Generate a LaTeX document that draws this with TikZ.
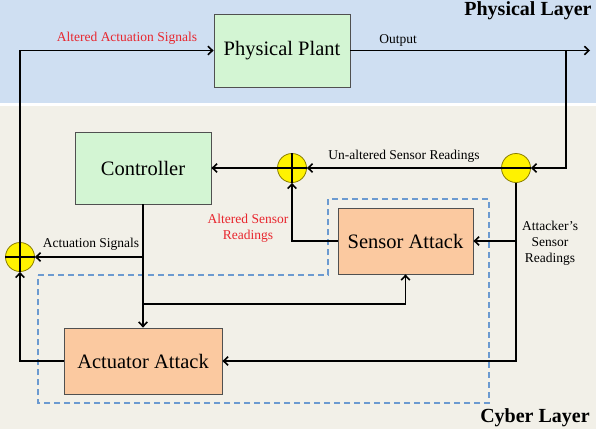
\documentclass[tikz,border=0pt]{standalone}
\usepackage{fontspec}
\setmainfont{Liberation Serif}
\usetikzlibrary{arrows.meta,shadows}
\definecolor{bgblue}{HTML}{CFDFF2}
\definecolor{bgbeige}{HTML}{F2F0E8}
\definecolor{boxgreen}{HTML}{D3F5D3}
\definecolor{boxorange}{HTML}{FBC9A0}
\definecolor{sumyellow}{HTML}{FFF200}
\definecolor{sumedge}{HTML}{8A7E00}
\definecolor{dashblue}{HTML}{6C9AD0}
\definecolor{redtext}{HTML}{E8262E}
\definecolor{boxedge}{HTML}{505050}
\tikzset{
  blk/.style={draw=boxedge, line width=0.8pt, minimum width=#1, inner sep=0pt,
    font=\rmfamily\fontsize{20.5}{23}\selectfont,
    drop shadow={opacity=0.35, shadow xshift=1pt, shadow yshift=-1pt}},
  greenbox/.style={blk=#1, fill=boxgreen},
  orangebox/.style={blk=#1, fill=boxorange},
  sumnode/.style={circle, draw=sumedge, fill=sumyellow, line width=0.8pt, minimum size=29pt, inner sep=0pt},
  wire/.style={line width=1.5pt, black},
  arr/.style={wire, -{Straight Barb[length=4.5pt,width=8.5pt,line width=1.6pt]}},
  lbl/.style={font=\rmfamily\fontsize{13.5}{16}\selectfont, align=center, inner sep=0pt},
  redlbl/.style={lbl, text=redtext},
  layer/.style={font=\rmfamily\bfseries\fontsize{20}{22}\selectfont, inner sep=0pt}
}
\begin{document}
\begin{tikzpicture}[x=1pt,y=-1pt]
\useasboundingbox (0,0) rectangle (596,429);
% backgrounds
\fill[bgblue] (0,0) rectangle (596,103);
\fill[white] (0,103) rectangle (596,106);
\fill[bgbeige] (0,106) rectangle (596,429);
% dashed region
\draw[dashblue, line width=1.2pt, dash pattern=on 6pt off 4pt]
  (38,275) -- (328,275) -- (328,199) -- (489,199) -- (489,403) -- (38,403) -- cycle;
% blocks
\node[greenbox=136pt, minimum height=73pt] (plant) at (282,50.5) {Physical Plant};
\node[greenbox=136pt, minimum height=72pt] (ctrl) at (143,168) {Controller};
\node[orangebox=135pt, minimum height=66pt] (sensor) at (405.5,241) {Sensor Attack};
\node[orangebox=158pt, minimum height=66pt] (act) at (143,361) {Actuator Attack};
% summing / split points
\node[sumnode] (sumL) at (20,257) {};
\node[sumnode] (sumC) at (292,168) {};
\node[sumnode] (split) at (516,168) {};
\draw[wire] (sumL.north) -- (sumL.south) (sumL.west) -- (sumL.east);
\draw[wire] (sumC.north) -- (sumC.south) (sumC.west) -- (sumC.east);
\draw[wire] (split.west) -- (split.east);
% coordinates
\coordinate (out) at (590,50.5);
\coordinate (tap) at (566,50.5);
\coordinate (jA) at (143,304);
% connectors
\draw[arr] (sumL.north) |- (plant.west);
\draw[arr] (plant.east) -- (out);
\draw[arr] (tap) |- (split.east);
\draw[arr] (split.west) -- (sumC.east);
\draw[arr] (sumC.west) -- (ctrl.east);
\draw[arr] (split.south) |- (act.east);
\draw[arr] (split.south |- sensor.east) -- (sensor.east);
\draw[arr] (sensor.west) -| (sumC.south);
\draw[arr] (ctrl.south) -- (act.north);
\draw[arr] (ctrl.south |- sumL.east) -- (sumL.east);
\draw[arr] (jA) -| (sensor.south);
\draw[arr] (act.west) -| (sumL.south);
% labels
\node[redlbl] (l1) at (127,38) {Altered Actuation Signals};
\node[lbl] (l2) at (398,40) {Output};
\node[lbl] (l3) at (404,156) {Un-altered Sensor Readings};
\node[redlbl] (l4) at (248,228) {Altered Sensor\\Readings};
\node[lbl] (l5) at (91,244) {Actuation Signals};
\node[lbl] (l6) at (550,243) {Attacker’s\\Sensor\\Readings};
\node[layer] (pl) at (528,11) {Physical Layer};
\node[layer] (cl) at (535,418) {Cyber Layer};
\end{tikzpicture}
\end{document}
